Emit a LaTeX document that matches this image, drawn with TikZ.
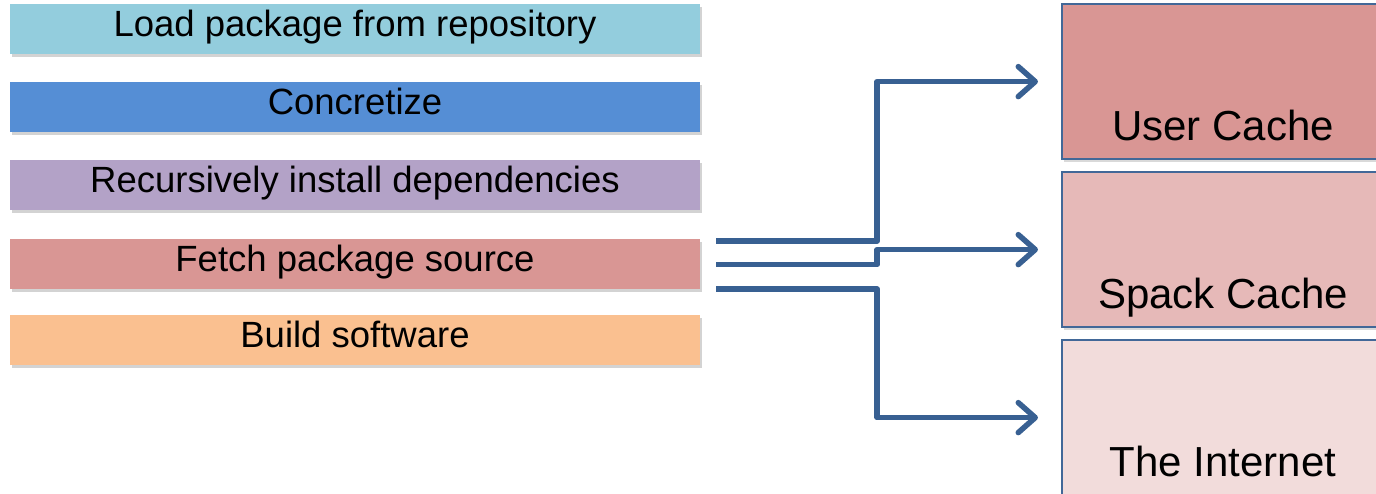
\documentclass[tikz,border=0pt]{standalone}
\usepackage{fontspec}
\setmainfont{Liberation Sans}
\usetikzlibrary{arrows.meta,shadows,calc}
\definecolor{cload}{HTML}{93CDDD}
\definecolor{cconc}{HTML}{558ED5}
\definecolor{crec}{HTML}{B3A2C7}
\definecolor{cfetch}{HTML}{D99694}
\definecolor{cbuild}{HTML}{FAC090}
\definecolor{cuser}{HTML}{D99694}
\definecolor{cspack}{HTML}{E6B9B8}
\definecolor{cnet}{HTML}{F2DCDB}
\definecolor{cborder}{RGB}{66,104,152}
\definecolor{carrow}{RGB}{56,96,146}
\tikzset{
  stepbox/.style={rectangle, draw=none, minimum width=690pt, minimum height=50pt, inner sep=0pt,
    text height=26pt, text depth=11pt,
    font=\fontsize{36.5}{40}\selectfont,
    drop shadow={shadow xshift=1.5pt, shadow yshift=-3pt, opacity=0.35}},
  cachebox/.style={rectangle, draw=cborder, line width=2.2pt, minimum width=340pt, minimum height=155pt, inner sep=0pt,
    drop shadow={shadow xshift=1.5pt, shadow yshift=-2.5pt, opacity=0.3}},
  cachetext/.style={anchor=base, font=\fontsize{42}{46}\selectfont, inner sep=0pt},
  conn/.style={draw=carrow, line width=5.5pt, line join=round, -{Straight Barb[length=17pt,width=30pt,round]}}
}
\begin{document}
\begin{tikzpicture}[x=1pt,y=-1pt]
\useasboundingbox (0,0) rectangle (1376,494);
\clip (0,0) rectangle (1376,494);
\node[stepbox, fill=cload]  (load)  at (355,29)  {Load package from repository};
\node[stepbox, fill=cconc]  (conc)  at (355,107) {Concretize};
\node[stepbox, fill=crec]   (rec)   at (355,185) {Recursively install dependencies};
\node[stepbox, fill=cfetch] (fetch) at (355,264.5) {Fetch package source};
\node[stepbox, fill=cbuild] (build) at (355,340) {Build software};

\node[cachebox, fill=cuser, anchor=north west]  (user)  at (1061,3)   {};
\node[cachebox, fill=cspack, anchor=north west] (spack) at (1061,171) {};
\node[cachebox, fill=cnet, anchor=north west]   (net)   at (1061,339) {};
\node[cachetext] (usert)  at ([xshift=-170pt+161pt,yshift=20pt]user.south)  {User Cache};
\node[cachetext] (spackt) at ([xshift=-170pt+161pt,yshift=20pt]spack.south) {Spack Cache};
\node[cachetext] (nett)   at ([xshift=-170pt+161pt,yshift=20pt]net.south)   {The Internet};

\coordinate (s1) at ([xshift=16pt,yshift=23.5pt]fetch.east);
\coordinate (s2) at ([xshift=16pt]fetch.east);
\coordinate (s3) at ([xshift=16pt,yshift=-24.5pt]fetch.east);
\coordinate (e1) at ([xshift=-23pt]user.west);
\coordinate (e2) at ([xshift=-23pt]spack.west);
\coordinate (e3) at ([xshift=-23pt]net.west);
\draw[conn] (s1) -- ++(161,0) |- (e1);
\draw[conn] (s2) -- ++(161,0) |- (e2);
\draw[conn] (s3) -- ++(161,0) |- (e3);
\end{tikzpicture}
\end{document}
